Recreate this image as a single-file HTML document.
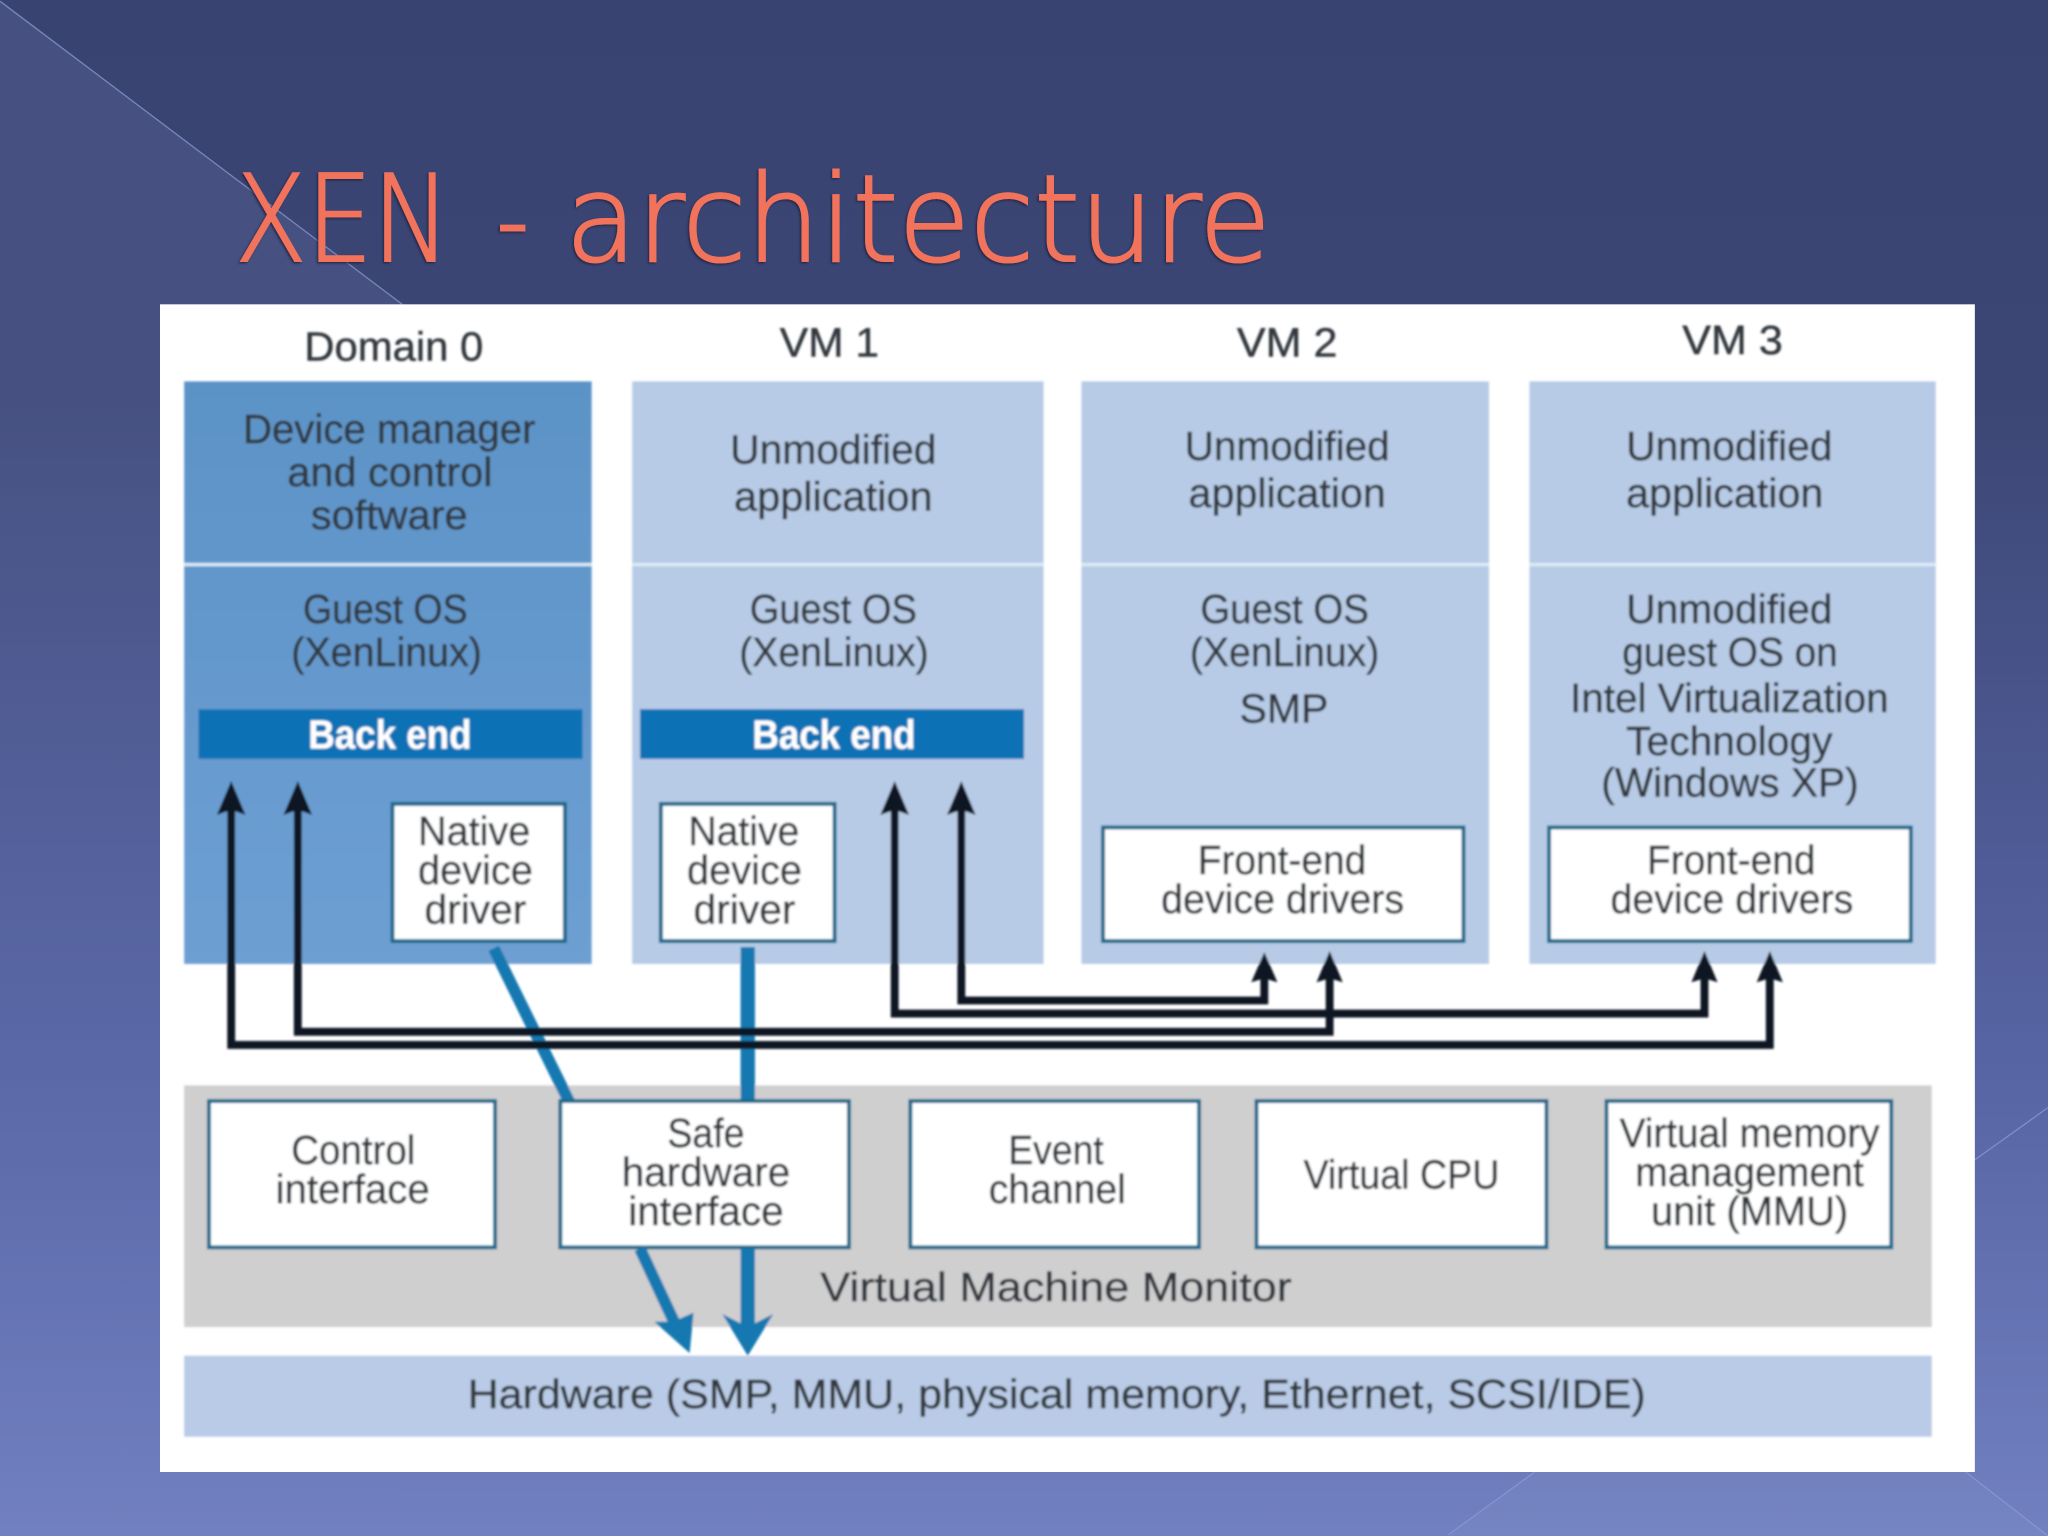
<!DOCTYPE html>
<html>
<head>
<meta charset="utf-8">
<title>XEN - architecture</title>
<style>
html,body{margin:0;padding:0;width:2048px;height:1536px;overflow:hidden;background:#4a568f}
svg{display:block}
text{font-family:"Liberation Sans",sans-serif;font-size:31px;fill:#33383d;stroke:#33383d;stroke-width:0.35;dominant-baseline:alphabetic}
.w{fill:#ffffff;stroke:#ffffff;stroke-width:0.2;font-weight:bold}
.title{font-family:"DejaVu Sans","Liberation Sans",sans-serif;font-weight:200;font-size:92px;fill:#f2735c;stroke:#f2735c;stroke-width:1.6}
</style>
</head>
<body>
<svg xmlns="http://www.w3.org/2000/svg" width="2048" height="1536" viewBox="0 0 1568 1176">
<defs>
<linearGradient id="bg" x1="0" y1="0" x2="0" y2="1">
<stop offset="0" stop-color="#394371"/>
<stop offset="0.25" stop-color="#3c4674"/>
<stop offset="0.7" stop-color="#5765a5"/>
<stop offset="1" stop-color="#7180c0"/>
</linearGradient>
<linearGradient id="ov" x1="0" y1="0" x2="0" y2="1">
<stop offset="0" stop-color="#8fa0e0" stop-opacity="0.15"/>
<stop offset="0.6" stop-color="#8fa0e0" stop-opacity="0.08"/>
<stop offset="1" stop-color="#8fa0e0" stop-opacity="0"/>
</linearGradient>
<linearGradient id="dom" x1="0" y1="0" x2="0" y2="1">
<stop offset="0" stop-color="#5c93c7"/>
<stop offset="1" stop-color="#6e9fd3"/>
</linearGradient>
<filter id="soft" x="-5%" y="-5%" width="110%" height="110%"><feGaussianBlur stdDeviation="0.8"/></filter>
<filter id="sh" x="-5%" y="-10%" width="110%" height="120%"><feDropShadow dx="-1" dy="1" stdDeviation="0.8" flood-color="#1c2340" flood-opacity="0.9"/></filter>
</defs>

<rect width="1568" height="1176" fill="url(#bg)"/>
<polygon points="0,0 308,233 308,1176 0,1176" fill="url(#ov)"/>
<polygon points="1109,1176 1175,1127 1505,1127 1568,1176" fill="#ffffff" fill-opacity="0.03"/>
<g stroke="#8f9cd8" stroke-width="1" fill="none" opacity="0.7">
<line x1="0" y1="1" x2="308" y2="233"/>
<line x1="1568" y1="848" x2="1512" y2="888"/>
<line x1="1175" y1="1127" x2="1109" y2="1175"/>
<line x1="1505" y1="1127" x2="1568" y2="1176"/>
</g>

<g filter="url(#sh)">
<text class="title" x="180" y="200" textLength="165" lengthAdjust="spacingAndGlyphs">XEN</text>
<text class="title" x="380" y="200" textLength="25" lengthAdjust="spacingAndGlyphs">-</text>
<text class="title" x="433" y="200" textLength="540" lengthAdjust="spacingAndGlyphs">architecture</text>
</g>

<rect x="122.5" y="233" width="1389.5" height="894" fill="#ffffff"/>

<g filter="url(#soft)">
<!-- columns -->
<rect x="141" y="292" width="312" height="446" fill="url(#dom)"/>
<rect x="484" y="292" width="315" height="446" fill="#b7cbe6"/>
<rect x="828" y="292" width="312" height="446" fill="#b7cbe6"/>
<rect x="1171" y="292" width="311" height="446" fill="#b7cbe6"/>
<g fill="#dcebf7">
<rect x="141" y="431" width="312" height="2.5"/>
<rect x="484" y="431" width="315" height="2.5"/>
<rect x="828" y="431" width="312" height="2.5"/>
<rect x="1171" y="431" width="311" height="2.5"/>
</g>
<!-- back end -->
<rect x="152" y="543" width="294" height="38" fill="#0f72b5"/>
<rect x="490" y="543" width="294" height="38" fill="#0f72b5"/>
<!-- VMM, hardware -->
<rect x="141" y="831" width="1338" height="185" fill="#cfcfd0"/>
<rect x="141" y="1038" width="1338" height="62" fill="#b9cbe6"/>

<!-- blue connectors (upper) -->
<g stroke="#1378b0" fill="none">
<line x1="378" y1="726" x2="436" y2="844" stroke-width="9"/>
<line x1="572.5" y1="725" x2="572.5" y2="844" stroke-width="11"/>
</g>

<!-- black connectors -->
<g stroke="#0f1420" stroke-width="6" fill="none" stroke-linejoin="miter">
<polyline points="177,612 177,800 1355,800 1355,745"/>
<polyline points="228,612 228,790 1018,790 1018,745"/>
<polyline points="685,612 685,776 1305,776 1305,745"/>
<polyline points="736,612 736,766 968,766 968,745"/>
</g>
<g fill="#0f1420">
<polygon points="177,598 188,624 177,620 166,624"/>
<polygon points="228,598 239,624 228,620 217,624"/>
<polygon points="685,598 696,624 685,620 674,624"/>
<polygon points="736,598 747,624 736,620 725,624"/>
<polygon points="968,729 978,752 968,749 958,752"/>
<polygon points="1018,728 1028,752 1018,749 1008,752"/>
<polygon points="1305,728 1315,752 1305,749 1295,752"/>
<polygon points="1355,728 1365,752 1355,749 1345,752"/>
</g>

<!-- white boxes -->
<g fill="#ffffff" stroke="#146a8c" stroke-width="3">
<rect x="300.5" y="615.5" width="132" height="105"/>
<rect x="506" y="615.5" width="133" height="105"/>
<rect x="844.5" y="633.5" width="276" height="87"/>
<rect x="1186" y="633.5" width="277" height="87"/>
<rect x="160" y="843" width="219" height="112"/>
<rect x="429" y="843" width="221" height="112"/>
<rect x="697" y="843" width="221" height="112"/>
<rect x="962" y="843" width="222" height="112"/>
<rect x="1230" y="843" width="218" height="112"/>
</g>

<!-- blue connectors (lower) -->
<g stroke="#1378b0" fill="none">
<line x1="490" y1="956" x2="517" y2="1014" stroke-width="9"/>
<line x1="572.5" y1="956" x2="572.5" y2="1018" stroke-width="11"/>
</g>
<g fill="#1378b0">
<polygon points="528,1036 501,1012 515,1012 531,1005"/>
<polygon points="572.5,1038 553,1006 572.5,1016 592,1006"/>
</g>

<!-- labels -->
<text x="233" y="276" textLength="137" lengthAdjust="spacingAndGlyphs">Domain 0</text>
<text x="597" y="273" textLength="76" lengthAdjust="spacingAndGlyphs">VM 1</text>
<text x="947" y="273" textLength="77" lengthAdjust="spacingAndGlyphs">VM 2</text>
<text x="1288" y="271" textLength="77" lengthAdjust="spacingAndGlyphs">VM 3</text>

<text x="186" y="339" textLength="224" lengthAdjust="spacingAndGlyphs">Device manager</text>
<text x="220" y="372" textLength="157" lengthAdjust="spacingAndGlyphs">and control</text>
<text x="238" y="405" textLength="120" lengthAdjust="spacingAndGlyphs">software</text>

<text x="559" y="355" textLength="158" lengthAdjust="spacingAndGlyphs">Unmodified</text>
<text x="562" y="391" textLength="152" lengthAdjust="spacingAndGlyphs">application</text>
<text x="907" y="352" textLength="157" lengthAdjust="spacingAndGlyphs">Unmodified</text>
<text x="910" y="388" textLength="151" lengthAdjust="spacingAndGlyphs">application</text>
<text x="1245" y="352" textLength="158" lengthAdjust="spacingAndGlyphs">Unmodified</text>
<text x="1245" y="388" textLength="151" lengthAdjust="spacingAndGlyphs">application</text>

<text x="232" y="477" textLength="126" lengthAdjust="spacingAndGlyphs">Guest OS</text>
<text x="223" y="510" textLength="146" lengthAdjust="spacingAndGlyphs">(XenLinux)</text>
<text x="574" y="477" textLength="128" lengthAdjust="spacingAndGlyphs">Guest OS</text>
<text x="566" y="510" textLength="145" lengthAdjust="spacingAndGlyphs">(XenLinux)</text>
<text x="919" y="477" textLength="129" lengthAdjust="spacingAndGlyphs">Guest OS</text>
<text x="911" y="510" textLength="145" lengthAdjust="spacingAndGlyphs">(XenLinux)</text>
<text x="949" y="553" textLength="68" lengthAdjust="spacingAndGlyphs">SMP</text>

<text x="1245" y="477" textLength="158" lengthAdjust="spacingAndGlyphs">Unmodified</text>
<text x="1242" y="510" textLength="165" lengthAdjust="spacingAndGlyphs">guest OS on</text>
<text x="1202" y="545" textLength="244" lengthAdjust="spacingAndGlyphs">Intel Virtualization</text>
<text x="1245" y="578" textLength="158" lengthAdjust="spacingAndGlyphs">Technology</text>
<text x="1226" y="610" textLength="197" lengthAdjust="spacingAndGlyphs">(Windows XP)</text>

<text class="w" x="236" y="573" textLength="125" lengthAdjust="spacingAndGlyphs">Back end</text>
<text class="w" x="576" y="573" textLength="125" lengthAdjust="spacingAndGlyphs">Back end</text>

<text x="320" y="647" textLength="86" lengthAdjust="spacingAndGlyphs">Native</text>
<text x="320" y="677" textLength="88" lengthAdjust="spacingAndGlyphs">device</text>
<text x="325" y="707" textLength="78" lengthAdjust="spacingAndGlyphs">driver</text>
<text x="527" y="647" textLength="85" lengthAdjust="spacingAndGlyphs">Native</text>
<text x="526" y="677" textLength="88" lengthAdjust="spacingAndGlyphs">device</text>
<text x="531" y="707" textLength="78" lengthAdjust="spacingAndGlyphs">driver</text>

<text x="917" y="669" textLength="129" lengthAdjust="spacingAndGlyphs">Front-end</text>
<text x="889" y="699" textLength="186" lengthAdjust="spacingAndGlyphs">device drivers</text>
<text x="1261" y="669" textLength="129" lengthAdjust="spacingAndGlyphs">Front-end</text>
<text x="1233" y="699" textLength="186" lengthAdjust="spacingAndGlyphs">device drivers</text>

<text x="223" y="891" textLength="95" lengthAdjust="spacingAndGlyphs">Control</text>
<text x="211" y="921" textLength="118" lengthAdjust="spacingAndGlyphs">interface</text>
<text x="511" y="878" textLength="59" lengthAdjust="spacingAndGlyphs">Safe</text>
<text x="476" y="908" textLength="129" lengthAdjust="spacingAndGlyphs">hardware</text>
<text x="481" y="938" textLength="119" lengthAdjust="spacingAndGlyphs">interface</text>
<text x="772" y="891" textLength="73" lengthAdjust="spacingAndGlyphs">Event</text>
<text x="757" y="921" textLength="105" lengthAdjust="spacingAndGlyphs">channel</text>
<text x="998" y="910" textLength="150" lengthAdjust="spacingAndGlyphs">Virtual CPU</text>
<text x="1240" y="878" textLength="199" lengthAdjust="spacingAndGlyphs">Virtual memory</text>
<text x="1252" y="908" textLength="175" lengthAdjust="spacingAndGlyphs">management</text>
<text x="1264" y="938" textLength="151" lengthAdjust="spacingAndGlyphs">unit (MMU)</text>

<text x="628" y="996" textLength="361" lengthAdjust="spacingAndGlyphs">Virtual Machine Monitor</text>
<text x="358" y="1078" textLength="902" lengthAdjust="spacingAndGlyphs">Hardware (SMP, MMU, physical memory, Ethernet, SCSI/IDE)</text>
</g>
</svg>
</body>
</html>
